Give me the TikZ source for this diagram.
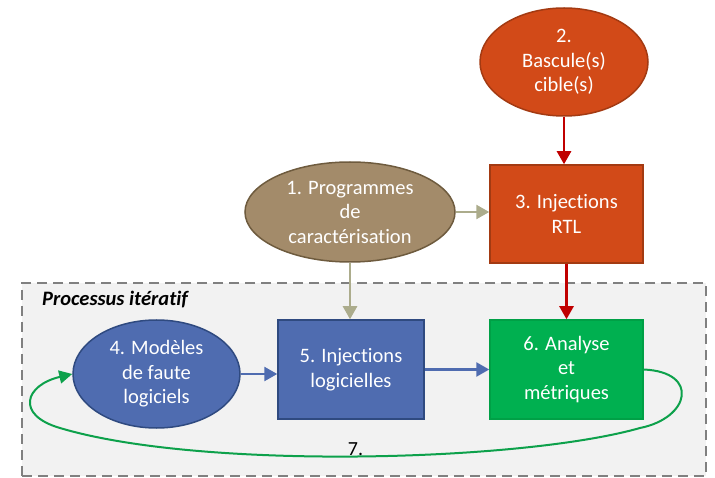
\documentclass[tikz,border=0pt]{standalone}
\usepackage{fontspec}
\setmainfont{Carlito}[Ligatures=NoCommon]
\usetikzlibrary{shapes.geometric,arrows.meta}
\definecolor{rustfill}{HTML}{D24A18}
\definecolor{rustline}{HTML}{A33A12}
\definecolor{sandfill}{HTML}{A38B6A}
\definecolor{sandline}{HTML}{6E5B3E}
\definecolor{khaki}{HTML}{ACAC8C}
\definecolor{darkred}{HTML}{C00000}
\definecolor{bluefill}{HTML}{4F6CB0}
\definecolor{blueline}{HTML}{2F4A80}
\definecolor{greenfill}{HTML}{00B050}
\definecolor{greenline}{HTML}{00A046}
\definecolor{loopgreen}{HTML}{0DA14B}
\definecolor{zonefill}{HTML}{F2F2F2}
\definecolor{zoneline}{HTML}{808080}
\begin{document}
\begin{tikzpicture}[x=1pt,y=-1pt,
  label/.style={text=white,align=center,font=\fontsize{20.5}{24.5}\selectfont,inner sep=0pt},
  oval/.style={label,ellipse,draw,line width=1.5pt},
  block/.style={label,rectangle,draw,line width=1.5pt},
  flow/.style={line width=2.5pt,-{Triangle[length=13pt,width=14pt]}},
  zone/.style={draw=zoneline,fill=zonefill,line width=2pt,dash pattern=on 10pt off 6pt}]
\useasboundingbox (0,0) rectangle (715,478);

% iterative process area
\node[zone,minimum width=684pt,minimum height=193pt,inner sep=0pt] (zone) at (364,379.5) {};
\node[anchor=base west,font=\fontsize{20.5}{24}\selectfont\bfseries\itshape,inner sep=0pt] (zonetitle) at (42,306) {Processus itératif};

% steps
\node[oval,fill=rustfill,draw=rustline,minimum width=168pt,minimum height=108pt] (n2) at (564,62) {2.\\Bascule(s)\\cible(s)};
\node[block,fill=rustfill,draw=rustline,minimum width=153pt,minimum height=98pt] (n3) at (566.5,214) {3. Injections\\RTL};
\node[oval,fill=sandfill,draw=sandline,minimum width=210pt,minimum height=100pt] (n1) at (350,212) {1. Programmes\\de\\caractérisation};
\node[oval,fill=bluefill,draw=blueline,minimum width=167pt,minimum height=108pt] (n4) at (156.5,374) {4. Modèles\\de faute\\logiciels};
\node[block,fill=bluefill,draw=blueline,minimum width=146pt,minimum height=99pt] (n5) at (351,369.5) {5. Injections\\logicielles};
\node[block,fill=greenfill,draw=greenline,minimum width=153pt,minimum height=99pt] (n6) at (566.5,369.5) {6. Analyse\\et\\métriques};

% connectors
\draw[flow,darkred] (n2.south) -- (n2.south |- n3.north);
\draw[flow,khaki] (n1.east) -- (n1.east -| n3.west);
\draw[flow,khaki] (n1.south) -- (n1.south |- n5.north);
\draw[flow,darkred] (n3.south) -- (n6.north);
\draw[flow,bluefill] (n4.east) -- (n4.east -| n5.west);
\draw[flow,bluefill] (n5.east) -- (n5.east -| n6.west);

% feedback loop
\draw[loopgreen,line width=2pt,-{Triangle[length=13pt,width=13pt]}]
  (n6.east) .. controls (700,372) and (690,418) .. (640,428)
  .. controls (520,462) and (200,470) .. (60,428)
  .. controls (15,415) and (25,385) .. (n4.west);
\node[font=\fontsize{20}{22}\selectfont,inner sep=0pt,anchor=base] (n7) at (355.5,455) {7.};
\end{tikzpicture}
\end{document}
